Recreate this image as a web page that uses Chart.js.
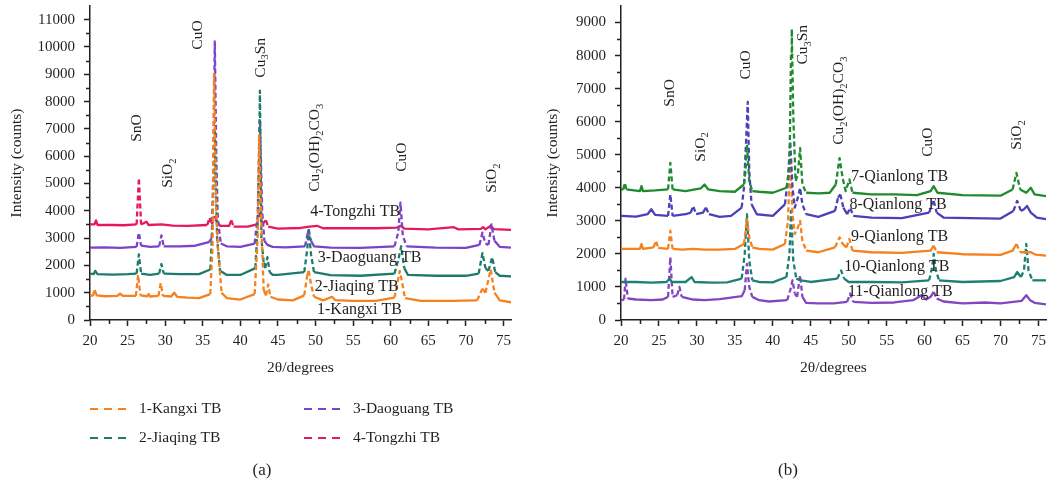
<!DOCTYPE html>
<html>
<head>
<meta charset="utf-8">
<script src="https://cdn.jsdelivr.net/npm/chart.js@4.4.0/dist/chart.umd.min.js"></script>
<style>
  html, body { margin: 0; padding: 0; background: #fff; }
  #wrap { position: relative; width: 1052px; height: 487px; }
  .panel { position: absolute; top: 0; width: 526px; height: 487px; }
</style>
</head>
<body>
<div id="wrap">
  <div class="panel" style="left:0"><canvas id="chartA" width="526" height="487"></canvas></div>
  <div class="panel" style="left:526px"><canvas id="chartB" width="526" height="487"></canvas></div>
</div>
<script>
"use strict";

// ---- panel (a): [2theta, counts] ----
const kangxi = [[20,900],[20.4,880],[20.6,1100],[20.9,900],[22,870],[23.6,880],[24,960],[24.4,880],[26.1,880],[26.4,1650],[26.7,900],[27.6,870],[27.8,950],[28,860],[29.1,880],[29.4,1350],[29.7,880],[30.8,860],[31.2,1000],[31.6,850],[33,820],[34.5,800],[36.0,950],[36.3,2700],[36.5,9000],[36.8,4000],[37.0,2700],[37.5,1000],[38.2,800],[40,750],[41.9,950],[42.3,3000],[42.5,6800],[42.8,3500],[43.1,1100],[43.4,900],[43.7,1300],[44.0,850],[45,750],[47,720],[48.5,900],[48.9,1650],[49.1,1800],[49.4,1300],[49.8,850],[51,720],[52.2,850],[52.6,730],[55,700],[58,700],[60.5,820],[61.0,1500],[61.2,1800],[61.5,1400],[61.9,800],[64,700],[68,700],[71.5,720],[72.2,1150],[72.6,1000],[73.3,1850],[73.8,1000],[74.5,720],[76,650]];
const jiaqing = [[20,1700],[20.5,1680],[20.7,1800],[21,1680],[23,1660],[25,1680],[26.2,1700],[26.5,2400],[26.8,1700],[28,1650],[29.2,1700],[29.5,2050],[29.8,1700],[32,1680],[34.5,1680],[36.0,1850],[36.3,3500],[36.6,7000],[36.9,3000],[37.3,1800],[38.2,1650],[40,1650],[42.0,1900],[42.4,4000],[42.6,8400],[42.8,3000],[43.1,2100],[43.3,1900],[43.6,2300],[43.9,1750],[44.3,1650],[45,1650],[48.5,1750],[48.9,2600],[49.1,3300],[49.4,2400],[49.8,1750],[52,1640],[56,1620],[60.5,1700],[61.0,2200],[61.4,2700],[61.8,1900],[62.3,1650],[66,1620],[70,1620],[71.7,1700],[72.2,2450],[72.6,1900],[73.0,1800],[73.5,2300],[73.9,1750],[74.5,1620],[76,1600]];
const daoguang = [[20,2650],[22,2660],[24,2640],[26.2,2680],[26.5,3200],[26.8,2720],[28,2680],[29.2,2700],[29.5,3100],[29.8,2700],[32,2700],[34,2720],[35.8,2850],[36.2,3000],[36.4,5500],[36.6,10200],[36.8,6000],[37.0,3700],[37.4,2800],[38.2,2700],[40,2680],[41.9,2800],[42.3,3800],[42.6,7300],[42.9,4000],[43.2,2900],[43.6,2750],[44.3,2680],[46,2660],[48.6,2700],[48.9,3100],[49.1,3300],[49.4,2900],[49.8,2700],[52,2650],[56,2640],[60.5,2700],[61.0,3200],[61.3,4300],[61.6,3100],[62.1,2700],[66,2650],[70,2640],[71.8,2750],[72.2,3200],[72.6,2800],[73.0,2750],[73.4,3500],[73.8,2900],[74.5,2680],[76,2650]];
const tongzhi = [[20,3500],[20.6,3500],[20.8,3650],[21.0,3480],[23,3480],[24.5,3470],[26.2,3500],[26.5,5200],[26.8,3500],[27.5,3600],[27.8,3480],[29.5,3500],[31,3460],[33,3450],[35.6,3480],[35.9,3750],[36.2,3480],[36.6,3800],[36.9,3600],[37.3,3450],[38.5,3450],[38.8,3650],[39.1,3420],[41,3420],[42.2,3500],[42.6,3900],[42.9,3500],[43.4,3650],[43.7,3420],[45,3350],[48,3370],[49.2,3420],[50.2,3450],[51,3360],[55,3360],[58,3360],[60.8,3380],[61.3,3450],[61.8,3350],[65,3320],[68.4,3400],[69,3320],[72.0,3340],[72.3,3400],[72.6,3320],[73.3,3450],[73.7,3330],[76,3300]];

// ---- panel (b) ----
const qianlong7 = [[20,3950],[20.3,3950],[20.5,4150],[20.7,3950],[22.5,3900],[22.7,4050],[22.9,3900],[24.5,3920],[26.2,3950],[26.5,4750],[26.8,3950],[28.5,3900],[30.5,3980],[31,4100],[31.5,3950],[33,3900],[35,3880],[36.2,4100],[36.4,4500],[36.6,5300],[36.9,4200],[37.3,3900],[38.2,3880],[40,3850],[41.8,4000],[42.2,4600],[42.4,8000],[42.5,8800],[42.7,6200],[43.0,4200],[43.3,4400],[43.6,5200],[43.9,4100],[44.4,3850],[46,3830],[47.5,3850],[48.3,4100],[48.8,4900],[49.2,4300],[49.6,3900],[50.1,4250],[50.5,3850],[53,3800],[56,3800],[59,3780],[60.8,3900],[61.2,4050],[61.7,3850],[65,3780],[70,3760],[71.6,3950],[72.1,4450],[72.6,3950],[73.4,3850],[74.0,4000],[74.5,3800],[76,3750]];
const qianlong8 = [[20,3150],[22,3130],[23.5,3200],[24,3350],[24.5,3180],[26.2,3150],[26.5,3800],[26.8,3150],[28.5,3200],[29.2,3250],[29.5,3450],[29.9,3200],[30.8,3250],[31.2,3400],[31.6,3200],[33,3120],[34.5,3150],[35.9,3400],[36.2,4000],[36.5,5500],[36.7,6600],[36.9,4500],[37.2,3500],[37.9,3200],[40,3150],[41.6,3500],[42.0,4300],[42.3,5400],[42.6,4000],[42.9,3400],[43.3,3700],[43.6,4000],[43.9,3500],[44.4,3200],[46,3120],[48.2,3300],[48.6,3700],[48.9,3800],[49.3,3400],[49.8,3200],[50.2,3400],[50.6,3150],[53,3100],[57,3080],[60.6,3250],[61.0,3500],[61.2,3600],[61.6,3250],[62.5,3100],[66,3080],[70,3070],[71.7,3300],[72.2,3600],[72.7,3300],[73.1,3350],[73.5,3450],[74.0,3250],[74.8,3100],[76,3050]];
const qianlong9 = [[20,2150],[21,2150],[22.5,2150],[22.7,2300],[22.9,2150],[24.3,2200],[24.6,2400],[24.9,2180],[26.2,2150],[26.5,2700],[26.8,2150],[28,2130],[29.5,2150],[31,2130],[33,2130],[35,2150],[36.2,2300],[36.6,3050],[36.9,2500],[37.3,2200],[38.2,2150],[40,2130],[41.6,2300],[42.0,3000],[42.3,4900],[42.6,3200],[42.9,2600],[43.3,2800],[43.6,3000],[43.9,2400],[44.4,2100],[46,2050],[48.2,2200],[48.8,2500],[49.2,2300],[49.7,2200],[50.1,2450],[50.5,2100],[53,2050],[57,2030],[60.8,2100],[61.2,2250],[61.6,2050],[65,1990],[70,1970],[71.6,2100],[72.1,2300],[72.6,2050],[73.2,2050],[74,2050],[74.6,1980],[76,1950]];
const qianlong10 = [[20,1150],[22,1150],[24,1130],[26,1150],[26.4,1250],[26.7,1150],[28.5,1150],[29.3,1300],[29.7,1150],[32,1130],[34,1140],[35.9,1250],[36.3,2000],[36.6,3200],[36.9,1800],[37.3,1200],[38.2,1150],[40,1140],[41.8,1300],[42.2,2000],[42.4,3300],[42.7,1800],[43.1,1250],[43.7,1200],[45,1150],[48.5,1250],[49.0,1500],[49.4,1250],[50,1150],[53,1150],[57,1140],[60.6,1200],[61.0,1600],[61.2,2000],[61.5,1500],[61.9,1200],[65,1150],[70,1180],[71.8,1300],[72.2,1450],[72.7,1300],[73.1,1500],[73.4,2300],[73.7,1500],[74.2,1200],[76,1200]];
const qianlong11 = [[20,600],[20.4,620],[20.6,1250],[20.9,650],[22,620],[24,600],[25.5,620],[26.2,700],[26.5,1900],[26.8,700],[27.4,750],[27.7,1000],[28,700],[29.5,620],[31,600],[33,630],[34.5,680],[35.9,720],[36.3,900],[36.6,1700],[36.9,1000],[37.3,700],[38.2,600],[39.5,560],[41.9,600],[42.3,900],[42.6,1200],[42.9,800],[43.2,700],[43.6,1350],[43.9,700],[44.4,520],[46,500],[48,500],[49.8,550],[50.2,800],[50.6,550],[53,520],[56,530],[58.5,600],[59.6,750],[60.2,620],[60.8,700],[61.2,850],[61.6,650],[62.5,560],[65,500],[68,530],[70,500],[72.8,580],[73.4,750],[73.9,600],[74.5,520],[76,470]];

const serif = "'Liberation Serif', 'Times New Roman', serif";
const ink = '#231f20';

function steep(c) {
    const dx = Math.abs(c.p1.x - c.p0.x);
    const dy = Math.abs(c.p1.y - c.p0.y);
    return dy > 6 && dy > dx * 2;
}

function series(label, pairs, color) {
    return {
        label: label,
        data: pairs.map(([x, y]) => ({ x: x, y: y })),
        borderColor: color,
        backgroundColor: color,
        borderWidth: 2.3,
        borderJoinStyle: 'round',
        pointRadius: 0,
        tension: 0,
        fill: false,
        segment: { borderDash: c => steep(c) ? [5, 3] : undefined }
    };
}

// "Cu_2(OH)_2CO_3" -> parts with subscripts
function parseRich(s) {
    const parts = [];
    let buf = '';
    for (let i = 0; i < s.length; i++) {
        if (s[i] === '_') {
            if (buf) parts.push([buf, false]);
            buf = '';
            parts.push([s[i + 1], true]);
            i++;
        } else {
            buf += s[i];
        }
    }
    if (buf) parts.push([buf, false]);
    return parts;
}

function drawRich(ctx, s, x, y, size) {
    let cx = x;
    parseRich(s).forEach(([t, sub]) => {
        ctx.font = (sub ? size * 0.68 : size) + 'px ' + serif;
        ctx.fillText(t, cx, sub ? y + size * 0.32 : y);
        cx += ctx.measureText(t).width;
    });
}

const panelText = {
    id: 'panelText',
    afterDraw(chart, args, opts) {
        const ctx = chart.ctx;
        const xs = chart.scales.x, ys = chart.scales.y;
        const area = chart.chartArea;
        ctx.save();

        // minor ticks
        ctx.strokeStyle = ink;
        ctx.lineWidth = 1.5;
        ctx.beginPath();
        xs.ticks.forEach(t => {
            if (t.value % 5 !== 0) {
                const px = Math.round(xs.getPixelForValue(t.value)) + 0.5;
                ctx.moveTo(px, area.bottom);
                ctx.lineTo(px, area.bottom + 4);
            }
        });
        ys.ticks.forEach(t => {
            if (t.value % 1000 !== 0 && t.value < ys.max) {
                const py = Math.round(ys.getPixelForValue(t.value)) + 0.5;
                ctx.moveTo(area.left - 4, py);
                ctx.lineTo(area.left, py);
            }
        });
        ctx.stroke();

        ctx.fillStyle = ink;
        ctx.textBaseline = 'middle';
        ctx.textAlign = 'left';

        // phase labels, rotated
        opts.peaks.forEach(p => {
            ctx.save();
            ctx.translate(xs.getPixelForValue(p.x), ys.getPixelForValue(p.y));
            ctx.rotate(-Math.PI / 2);
            drawRich(ctx, p.text, 0, 0, 15.5);
            ctx.restore();
        });

        // sample names
        opts.names.forEach(n => {
            drawRich(ctx, n.text, xs.getPixelForValue(n.x), ys.getPixelForValue(n.y), 16);
        });

        // axis titles
        ctx.textAlign = 'center';
        ctx.font = '15.5px ' + serif;
        ctx.fillText('2\u03b8/degrees', (area.left + area.right) / 2, 368);
        ctx.save();
        ctx.translate(opts.yTitleX, (area.top + area.bottom) / 2);
        ctx.rotate(-Math.PI / 2);
        ctx.fillText('Intensity (counts)', 0, 0);
        ctx.restore();

        // legend
        if (opts.legend) {
            const cols = [90, 304];
            chart.data.datasets.forEach((ds, i) => {
                const col = Math.floor(i / 2), row = i % 2;
                const x0 = cols[col], y0 = 409 + row * 29;
                ctx.strokeStyle = ds.borderColor;
                ctx.lineWidth = 1.8;
                ctx.setLineDash([8, 6]);
                ctx.beginPath();
                ctx.moveTo(x0, y0);
                ctx.lineTo(x0 + 36, y0);
                ctx.stroke();
                ctx.setLineDash([]);
                ctx.textAlign = 'left';
                ctx.font = '15.5px ' + serif;
                ctx.fillText(ds.label, x0 + 49, y0);
            });
        }

        // caption
        ctx.textAlign = 'center';
        ctx.font = '17px ' + serif;
        ctx.fillText(opts.caption, 262, 471);
        ctx.restore();
    }
};

function buildOptions(cfg) {
    return {
        responsive: false,
        animation: false,
        devicePixelRatio: 1,
        layout: { padding: { top: 6, right: cfg.padRight, left: 0, bottom: 0 } },
        plugins: {
            legend: { display: false },
            tooltip: { enabled: false },
            panelText: cfg.text
        },
        scales: {
            x: {
                type: 'linear',
                min: 20,
                max: 76,
                afterFit: s => { s.height = 167; s.paddingLeft = 0; s.paddingRight = 0; },
                border: { color: ink, width: 1.5 },
                grid: {
                    drawOnChartArea: false,
                    tickLength: 6,
                    tickWidth: 1.5,
                    tickColor: c => (c.tick && c.tick.value % 5 === 0) ? ink : 'rgba(0,0,0,0)'
                },
                ticks: {
                    stepSize: 2.5,
                    includeBounds: false,
                    autoSkip: false,
                    maxRotation: 0,
                    padding: 6,
                    color: ink,
                    font: { family: serif, size: 15 },
                    callback: v => v % 5 === 0 ? String(v) : ''
                }
            },
            y: {
                min: 0,
                max: cfg.yMax,
                afterFit: s => { s.width = cfg.yWidth; s.paddingTop = 0; s.paddingBottom = 0; },
                border: { color: ink, width: 1.5 },
                grid: {
                    drawOnChartArea: false,
                    tickLength: 6,
                    tickWidth: 1.5,
                    tickColor: c => (c.tick && c.tick.value % 1000 === 0) ? ink : 'rgba(0,0,0,0)'
                },
                ticks: {
                    stepSize: 500,
                    includeBounds: false,
                    autoSkip: false,
                    padding: 9,
                    color: ink,
                    font: { family: serif, size: 15 },
                    callback: v => v % 1000 === 0 ? String(v) : ''
                }
            }
        }
    };
}

window.addEventListener('load', () => {
    new Chart(document.getElementById('chartA').getContext('2d'), {
        type: 'line',
        data: {
            datasets: [
                series('1-Kangxi TB', kangxi, '#f5811f'),
                series('2-Jiaqing TB', jiaqing, '#1f7a6e'),
                series('3-Daoguang TB', daoguang, '#7b44c8'),
                series('4-Tongzhi TB', tongzhi, '#e6195f')
            ]
        },
        options: buildOptions({
            padRight: 15, yWidth: 90, yMax: 11500,
            text: {
                caption: '(a)', legend: true, yTitleX: 17,
                peaks: [
                    { text: 'SnO', x: 26.25, y: 6527 },
                    { text: 'SiO_2', x: 30.4, y: 4840 },
                    { text: 'CuO', x: 34.4, y: 9900 },
                    { text: 'Cu_3Sn', x: 42.7, y: 8874 },
                    { text: 'Cu_2(OH)_2CO_3', x: 49.9, y: 4694 },
                    { text: 'CuO', x: 61.5, y: 5427 },
                    { text: 'SiO_2', x: 73.5, y: 4657 }
                ],
                names: [
                    { text: '4-Tongzhi TB', x: 49.3, y: 3960 },
                    { text: '3-Daoguang TB', x: 50.3, y: 2274 },
                    { text: '2-Jiaqing TB', x: 49.9, y: 1210 },
                    { text: '1-Kangxi TB', x: 50.2, y: 367 }
                ]
            }
        }),
        plugins: [panelText]
    });

    new Chart(document.getElementById('chartB').getContext('2d'), {
        type: 'line',
        data: {
            datasets: [
                series('7-Qianlong TB', qianlong7, '#1f8a2e'),
                series('8-Qianlong TB', qianlong8, '#4a40b8'),
                series('9-Qianlong TB', qianlong9, '#f5811f'),
                series('10-Qianlong TB', qianlong10, '#1f7f74'),
                series('11-Qianlong TB', qianlong11, '#8446c0')
            ]
        },
        options: buildOptions({
            padRight: 6, yWidth: 95, yMax: 9500,
            text: {
                caption: '(b)', legend: false, yTitleX: 27,
                peaks: [
                    { text: 'SnO', x: 26.5, y: 6455 },
                    { text: 'SiO_2', x: 30.5, y: 4788 },
                    { text: 'CuO', x: 36.4, y: 7273 },
                    { text: 'Cu_3Sn', x: 44.0, y: 7727 },
                    { text: 'Cu_2(OH)_2CO_3', x: 48.7, y: 5303 },
                    { text: 'CuO', x: 60.5, y: 4939 },
                    { text: 'SiO_2', x: 72.2, y: 5152 }
                ],
                names: [
                    { text: '7-Qianlong TB', x: 50.3, y: 4333 },
                    { text: '8-Qianlong TB', x: 50.1, y: 3485 },
                    { text: '9-Qianlong TB', x: 50.3, y: 2515 },
                    { text: '10-Qianlong TB', x: 49.4, y: 1606 },
                    { text: '11-Qianlong TB', x: 49.9, y: 848 }
                ]
            }
        }),
        plugins: [panelText]
    });
});
</script>
</body>
</html>
